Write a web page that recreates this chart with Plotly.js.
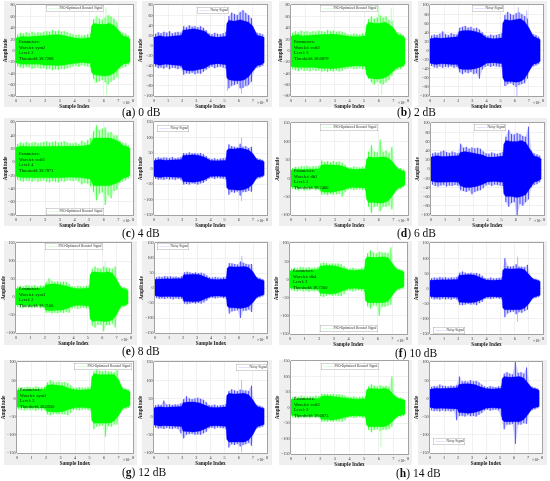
<!DOCTYPE html>
<html><head><meta charset="utf-8">
<script src="https://cdn.plot.ly/plotly-3.0.1.min.js"></script>
<style>html,body{margin:0;padding:0;background:#fff}#c{width:550px;height:481px;filter:blur(0.35px)}</style>
</head><body><div id="c"></div>
<script>
// sample index (x 1e7) of the envelope readings
const knots=[0,0.4,0.8,1.2,1.6,1.95,2.05,2.4,2.8,3.2,3.6,4,4.5,5.1,5.15,5.3,5.7,6.1,6.4,6.7,7,7.3,7.6,7.8];
// sample index (x 1e7) of the fainter peak readings
const peakX=[0.1,0.3,0.5,0.7,0.9,1.1,1.3,1.5,1.7,1.9,2.1,2.3,2.5,2.7,2.9,3.1,3.3,3.5,3.7,3.9,4.1,4.3,4.5,4.7,4.9,5.1,5.3,5.5,5.7,5.9,6.1,6.3,6.5,6.7,6.9,7.1,7.3,7.5,7.7];

const aLTop=[22,25,24,25,26,27,27,28,28,27,25,22,21,23,42,48,46,46,48,44,36,26,24,20];
const aLBot=[-22,-24,-23,-24,-24,-26,-26,-26,-27,-26,-24,-22,-21,-23,-38,-42,-44,-45,-44,-40,-33,-24,-23,-20];
const aLUp=[28,31,30,32,30,33,31,32,31,33,34,33,36,34,35,33,34,32,30,28,27,28,26,27,29,30,55,60,56,54,58,62,60,56,50,34,31,30,26];
const aLDn=[-28,-30,-31,-29,-30,-32,-31,-30,-32,-31,-33,-32,-35,-33,-34,-32,-33,-31,-30,-28,-27,-29,-26,-27,-28,-30,-50,-56,-54,-52,-56,-60,-55,-52,-46,-32,-30,-29,-25];
const aLSx=[5.5,6.15,6.4,5.4,6.2,6.5,7.0];
const aLSy=[62,76,62,-58,-78,-55,-50];
const aRTop=[16,19,17,18,19,20,30,32,33,31,28,18,16,18,43,50,48,51,48,46,38,20,18,16];
const aRBot=[-36,-39,-37,-38,-39,-40,-48,-50,-50,-48,-45,-38,-36,-38,-64,-68,-70,-70,-68,-62,-52,-40,-38,-34];
const aRUp=[23,26,24,27,25,28,24,26,27,25,38,36,40,37,38,36,38,35,30,24,22,25,23,22,24,27,58,65,62,60,66,70,64,60,54,30,25,24,22];
const aRDn=[-42,-45,-44,-46,-43,-47,-44,-45,-47,-44,-58,-55,-56,-54,-57,-55,-56,-52,-48,-44,-42,-45,-43,-42,-44,-46,-85,-80,-78,-76,-85,-84,-80,-78,-72,-48,-44,-43,-40];
const aRSx=[5.2,6.2,6.6];
const aRSy=[-90,-96,-82];

const bLTop=[25,28,26,27,28,28,28,28,29,28,26,25,24,26,44,50,48,48,50,46,40,28,26,22];
const bLBot=[-28,-30,-29,-30,-30,-31,-32,-32,-32,-31,-30,-28,-27,-28,-42,-48,-50,-50,-48,-44,-36,-30,-28,-24];
const bLUp=[31,34,32,35,33,34,32,34,33,35,34,33,36,34,35,33,34,33,31,29,28,30,29,28,30,32,55,60,56,58,62,58,60,54,52,34,32,30,27];
const bLDn=[-33,-35,-36,-34,-36,-35,-37,-34,-36,-35,-37,-36,-38,-36,-37,-35,-37,-36,-33,-32,-31,-33,-32,-31,-33,-34,-50,-56,-60,-55,-58,-60,-56,-52,-45,-36,-34,-33,-29];
const bLSx=[6.0,6.85,6.2,5.6];
const bLSy=[78,75,-78,-60];
const bRTop=[26,28,27,28,29,30,42,44,44,42,38,28,26,28,60,68,66,68,70,64,50,32,28,24];
const bRBot=[-28,-31,-29,-30,-31,-31,-40,-42,-42,-40,-36,-28,-27,-29,-60,-68,-68,-70,-68,-62,-48,-31,-28,-24];
const bRUp=[33,35,34,37,42,36,34,38,36,35,50,52,54,50,52,48,50,46,40,34,32,35,33,34,36,38,78,85,80,78,82,84,80,76,70,42,36,34,30];
const bRDn=[-34,-37,-38,-35,-38,-36,-37,-35,-38,-36,-48,-52,-48,-50,-47,-52,-50,-62,-42,-36,-34,-36,-34,-35,-36,-37,-78,-74,-72,-76,-80,-76,-74,-72,-62,-40,-35,-33,-30];
const bRSx=[6.25,6.85,6.15,5.4];
const bRSy=[95,88,-100,-78];

const cLTop=[22,24,23,23,24,24,24,24,24,24,23,23,24,26,30,36,36,36,36,34,31,25,23,20];
const cLBot=[-22,-24,-23,-23,-24,-24,-24,-24,-24,-24,-23,-23,-24,-26,-30,-36,-36,-36,-36,-34,-31,-25,-23,-20];
const cLUp=[27,29,28,30,28,29,30,28,29,30,31,29,30,31,29,30,31,29,28,28,29,27,32,29,33,36,46,55,48,50,52,44,45,40,40,32,29,28,25];
const cLDn=[-27,-29,-30,-28,-29,-30,-28,-30,-29,-28,-30,-31,-29,-30,-31,-29,-30,-28,-28,-29,-28,-30,-34,-32,-33,-37,-45,-58,-48,-46,-65,-50,-55,-44,-42,-32,-30,-28,-25];
const cLSx=[];
const cLSy=[];
const cRTop=[26,29,27,28,28,29,42,44,44,42,36,26,25,27,58,64,63,66,64,60,48,28,26,22];
const cRBot=[-26,-29,-27,-28,-28,-29,-42,-44,-44,-42,-36,-26,-25,-27,-62,-68,-68,-70,-68,-62,-50,-28,-26,-22];
const cRUp=[33,36,34,36,35,34,37,33,35,36,50,48,52,49,50,48,50,46,40,33,31,33,30,32,33,35,78,72,70,68,80,70,72,66,70,38,33,31,28];
const cRDn=[-33,-36,-35,-37,-34,-36,-35,-37,-34,-36,-52,-50,-52,-48,-50,-52,-48,-46,-40,-33,-31,-34,-31,-32,-33,-35,-85,-76,-78,-74,-88,-76,-76,-72,-75,-38,-33,-31,-28];
const cRSx=[6.2,6.2];
const cRSy=[100,-105];

const dLTop=[22,25,24,25,25,26,36,37,36,36,32,25,24,26,50,58,56,58,58,54,42,26,22,18];
const dLBot=[-23,-26,-25,-26,-26,-27,-36,-38,-38,-36,-32,-26,-25,-27,-56,-66,-66,-68,-66,-60,-44,-28,-23,-18];
const dLUp=[28,31,30,33,32,34,31,33,32,34,48,44,46,43,46,44,45,42,36,30,29,32,30,29,31,34,72,90,72,70,105,72,75,68,85,36,30,28,24];
const dLDn=[-29,-32,-33,-31,-34,-32,-33,-31,-33,-32,-45,-44,-46,-43,-45,-44,-42,-50,-38,-32,-31,-33,-31,-30,-32,-34,-78,-95,-78,-76,-90,-78,-78,-74,-85,-38,-32,-29,-24];
const dLSx=[];
const dLSy=[];
const dRTop=[26,29,27,28,28,29,36,38,36,34,31,26,26,28,54,62,60,60,62,58,44,28,26,22];
const dRBot=[-26,-29,-28,-28,-28,-29,-36,-40,-40,-38,-34,-28,-27,-29,-54,-60,-60,-62,-60,-56,-42,-29,-26,-22];
const dRUp=[34,36,35,38,40,37,35,38,36,34,55,46,48,44,47,45,46,44,38,34,33,36,34,33,35,37,70,85,76,75,78,76,72,70,92,40,34,32,29];
const dRDn=[-34,-37,-38,-36,-35,-38,-36,-37,-35,-36,-46,-48,-50,-47,-55,-50,-48,-46,-42,-36,-34,-37,-34,-35,-36,-37,-72,-82,-74,-72,-100,-76,-80,-72,-66,-40,-35,-33,-29];
const dRSx=[];
const dRSy=[];

const eLTop=[23,25,25,25,25,26,34,36,36,34,30,24,23,26,62,70,68,68,70,66,50,26,23,18];
const eLBot=[-22,-24,-24,-24,-24,-25,-36,-38,-38,-36,-32,-24,-23,-26,-60,-68,-66,-68,-68,-64,-50,-26,-23,-18];
const eLUp=[29,31,30,33,32,31,33,30,32,31,42,52,44,42,44,41,43,42,36,30,29,31,30,29,31,33,78,85,80,78,85,82,80,78,85,36,31,28,24];
const eLDn=[-28,-30,-31,-29,-30,-31,-30,-29,-31,-30,-44,-43,-46,-44,-45,-43,-44,-42,-44,-32,-31,-33,-31,-30,-32,-33,-80,-85,-78,-76,-95,-78,-78,-74,-85,-36,-31,-28,-24];
const eLSx=[6.2];
const eLSy=[100];
const eRTop=[29,31,31,31,31,32,44,46,46,44,36,29,28,30,66,72,70,72,72,68,54,32,28,24];
const eRBot=[-26,-29,-28,-28,-28,-29,-44,-46,-46,-44,-36,-28,-27,-29,-60,-66,-66,-68,-66,-62,-48,-30,-26,-22];
const eRUp=[36,38,37,40,38,39,37,38,36,39,52,54,52,50,52,50,51,48,42,36,35,37,35,34,36,38,83,82,80,78,88,84,80,78,80,42,36,33,30];
const eRDn=[-33,-36,-35,-37,-34,-36,-38,-35,-37,-36,-52,-54,-52,-50,-52,-50,-52,-48,-42,-34,-33,-35,-33,-32,-34,-36,-85,-78,-76,-74,-100,-76,-76,-72,-80,-38,-33,-31,-28];
const eRSx=[6.2];
const eRSy=[107];

const fLTop=[24,26,26,26,27,28,36,38,38,36,31,26,25,27,56,62,60,62,62,60,44,28,24,20];
const fLBot=[-24,-26,-26,-26,-27,-28,-38,-40,-40,-38,-32,-26,-25,-27,-58,-64,-62,-64,-64,-60,-44,-28,-24,-20];
const fLUp=[30,32,31,34,33,32,34,31,33,34,44,46,45,42,44,43,44,42,36,31,30,32,30,29,32,33,72,80,74,72,76,74,74,72,88,36,31,29,26];
const fLDn=[-30,-32,-33,-31,-33,-32,-34,-31,-33,-32,-46,-48,-45,-43,-45,-44,-45,-46,-40,-32,-31,-33,-31,-30,-32,-34,-74,-80,-72,-72,-100,-76,-76,-72,-70,-36,-31,-29,-26];
const fLSx=[];
const fLSy=[];
const fRTop=[27,29,29,29,29,30,44,46,46,44,36,28,27,29,60,66,64,66,66,62,48,31,27,23];
const fRBot=[-26,-29,-28,-28,-28,-29,-45,-47,-47,-45,-38,-28,-27,-29,-64,-70,-68,-70,-70,-64,-50,-30,-26,-22];
const fRUp=[34,36,35,38,36,37,35,37,36,38,52,56,52,50,52,50,51,48,42,34,33,36,33,34,35,37,100,74,72,74,80,72,72,70,78,40,34,32,29];
const fRDn=[-33,-36,-35,-37,-34,-36,-35,-37,-34,-36,-54,-55,-53,-51,-53,-52,-55,-48,-44,-34,-33,-35,-33,-32,-34,-36,-95,-82,-78,-76,-85,-78,-80,-74,-70,-38,-33,-31,-28];
const fRSx=[6.2,6.2];
const fRSy=[105,-110];

const gLTop=[23,25,25,25,25,26,36,38,36,34,28,24,23,26,58,68,66,66,68,66,52,26,23,18];
const gLBot=[-24,-26,-26,-26,-26,-27,-36,-38,-38,-36,-30,-26,-25,-27,-60,-68,-66,-68,-68,-62,-48,-28,-24,-20];
const gLUp=[29,31,30,32,31,30,33,31,30,32,44,50,46,44,46,44,45,42,36,30,29,31,30,29,31,32,74,80,76,74,76,74,74,72,78,36,30,28,24];
const gLDn=[-30,-32,-33,-31,-33,-32,-34,-31,-33,-32,-44,-46,-44,-42,-44,-43,-44,-46,-40,-32,-31,-33,-31,-30,-32,-34,-85,-78,-76,-74,-105,-76,-78,-72,-72,-36,-31,-29,-26];
const gLSx=[];
const gLSy=[];
const gRTop=[24,27,26,27,27,28,38,40,40,38,32,26,25,27,58,64,62,64,64,60,46,28,25,22];
const gRBot=[-23,-26,-25,-26,-26,-27,-40,-42,-42,-40,-34,-26,-25,-27,-62,-70,-68,-70,-70,-64,-50,-28,-24,-22];
const gRUp=[31,33,32,44,33,34,32,34,33,36,48,56,50,48,50,52,49,46,40,32,31,33,30,31,32,34,70,75,72,70,74,72,72,70,85,38,32,30,27];
const gRDn=[-30,-33,-32,-34,-31,-33,-34,-32,-34,-45,-60,-50,-48,-47,-50,-49,-50,-46,-42,-32,-31,-33,-30,-31,-32,-34,-85,-76,-78,-75,-82,-78,-76,-72,-80,-38,-32,-30,-28];
const gRSx=[6.2,6.2];
const gRSy=[100,-98];

const hLTop=[27,29,29,29,29,30,36,38,36,34,31,28,27,29,56,62,60,60,62,58,42,30,27,23];
const hLBot=[-25,-28,-27,-28,-28,-28,-38,-40,-40,-38,-33,-28,-27,-29,-56,-62,-60,-62,-62,-56,-42,-28,-25,-22];
const hLUp=[33,36,35,38,36,35,37,36,38,36,44,44,43,42,44,42,43,41,38,35,34,36,33,34,35,37,68,75,70,68,72,68,70,66,100,38,34,32,28];
const hLDn=[-32,-34,-35,-33,-34,-33,-35,-32,-34,-33,-46,-45,-46,-44,-46,-44,-45,-46,-40,-33,-32,-34,-32,-31,-33,-35,-72,-80,-72,-70,-76,-72,-72,-70,-62,-36,-32,-30,-27];
const hLSx=[6.15];
const hLSy=[-128];
const hRTop=[25,28,27,28,28,29,38,40,40,38,32,27,26,28,54,60,58,60,60,56,42,28,26,22];
const hRBot=[-25,-28,-27,-28,-28,-29,-39,-41,-41,-39,-34,-27,-26,-28,-58,-64,-62,-64,-64,-58,-44,-28,-25,-22];
const hRUp=[32,34,33,38,35,34,33,35,34,36,60,47,48,46,50,47,48,44,38,33,31,34,32,31,33,35,68,72,68,66,100,70,72,68,85,36,32,30,27];
const hRDn=[-33,-35,-34,-36,-33,-35,-34,-36,-34,-60,-48,-48,-50,-46,-49,-48,-50,-45,-40,-33,-31,-34,-32,-31,-33,-50,-85,-72,-72,-70,-125,-72,-72,-68,-70,-36,-32,-30,-27];
const hRSx=[];
const hRSy=[];

const rangesY=[[-80,80,20],[-100,80,20],[-80,80,20],[-100,100,20],[-80,60,20],[-150,150,50],[-100,150,50],[-100,100,20],
 [-100,150,50],[-150,150,50],[-150,100,50],[-150,150,50],[-150,100,50],[-100,150,50],[-150,150,50],[-150,100,50]];
// pixel boxes: plot left, right, top, bottom
const boxes=[[16,133,5,96],[154,267,5,96],[291,408,5,96],[430,543,5,96],
 [16,133,122,215],[154,267,122,215],[291,408,123,215],[431,544,123,215],
 [16,131,243,333],[155,267,243,333],[290,407,243,334],[430,543,243,334],
 [17,133,362,453],[154,267,362,453],[291,408,361,454],[430,542,362,453]];
const frames=[[4,137,1,107],[142,272,1,107],[279,412,1,107],[418,547,1,107],
 [4,137,118,226],[142,272,118,226],[279,412,118,226],[418,547,118,226],
 [4,137,241,345],[142,272,241,345],[279,412,241,345],[418,547,241,345],
 [4,137,360,465],[142,272,360,465],[279,412,360,465],[418,547,360,465]];
const tops=[aLTop,aRTop,bLTop,bRTop,cLTop,cRTop,dLTop,dRTop,eLTop,eRTop,fLTop,fRTop,gLTop,gRTop,hLTop,hRTop];
const bots=[aLBot,aRBot,bLBot,bRBot,cLBot,cRBot,dLBot,dRBot,eLBot,eRBot,fLBot,fRBot,gLBot,gRBot,hLBot,hRBot];
const ups=[aLUp,aRUp,bLUp,bRUp,cLUp,cRUp,dLUp,dRUp,eLUp,eRUp,fLUp,fRUp,gLUp,gRUp,hLUp,hRUp];
const dns=[aLDn,aRDn,bLDn,bRDn,cLDn,cRDn,dLDn,dRDn,eLDn,eRDn,fLDn,fRDn,gLDn,gRDn,hLDn,hRDn];
const sxs=[aLSx,aRSx,bLSx,bRSx,cLSx,cRSx,dLSx,dRSx,eLSx,eRSx,fLSx,fRSx,gLSx,gRSx,hLSx,hRSx];
const sys=[aLSy,aRSy,bLSy,bRSy,cLSy,cRSy,dLSy,dRSy,eLSy,eRSy,fLSy,fRSy,gLSy,gRSy,hLSy,hRSy];
const legendPos=[[75,8],[213,10],[349,9],[488,9],[75,211],[173,128],[349,127],[490,127],
 [74,246],[173,246],[349,328],[449,330],[103,366],[252,367],[350,366],[449,441]];
const paramText=['sym2|3|38.7268','coif2|3|38.6879','coif3|4|38.7871','db2|2|38.7466','sym3|2|38.7166','db4|2|38.7260','sym3|3|38.6930','coif2|2|38.6873'];
const paramY=[50,50,162,179,297,279,398,407];
const captions=[['a','0 dB',141,113],['b','2 dB',416,113],['c','4 dB',141,233],['d','6 dB',416,233],
 ['e','8 dB',141,351],['f','10 dB',416,353],['g','12 dB',144,472],['h','14 dB',418,473]];
const W=550,H=481;
const serif='"Liberation Serif",serif';
const px=x=>x/W, py=y=>1-y/H;
const traces=[],layout={width:W,height:H,margin:{l:0,r:0,t:0,b:0},paper_bgcolor:'#fff',plot_bgcolor:'#fff',showlegend:false,shapes:[],annotations:[]};
boxes.forEach((b,i)=>{
  const s=i?String(i+1):'', xa='x'+s, ya='y'+s, left=i%2===0;
  const col=left?'#00ff00':'#0000ff', mid=left?'#4dff4d':'#4d4dff', pale=left?'#ccffcc':'#ccccff', light=left?'#a6ffa6':'#a6a6ff';
  const f=frames[i];
  layout.shapes.push({type:'rect',xref:'paper',yref:'paper',x0:px(f[0]),x1:px(f[1]),y0:py(f[3]),y1:py(f[2]),fillcolor:'#efefef',line:{width:0},layer:'below'});
  layout.shapes.push({type:'rect',xref:'paper',yref:'paper',x0:px(b[0]),x1:px(b[1]),y0:py(b[3]),y1:py(b[2]),fillcolor:'#fff',line:{width:0},layer:'below'});
  const ax={showline:true,mirror:true,linecolor:'#555',linewidth:0.5,gridcolor:'#e4e4e4',gridwidth:0.5,zeroline:false,ticks:'',tickfont:{family:serif,size:4.2,color:'#333'}};
  layout['xaxis'+s]=Object.assign({},ax,{domain:[px(b[0]),px(b[1])],range:[0,8],dtick:1,tick0:0,anchor:ya,
    title:{text:'Sample Index',font:{family:serif,size:5.2,color:'#222',weight:'bold'},standoff:0}});
  const r=rangesY[i];
  layout['yaxis'+s]=Object.assign({},ax,{domain:[py(b[3]),py(b[2])],range:[r[0],r[1]],dtick:r[2],tick0:0,anchor:xa,
    title:{text:'Amplitude',font:{family:serif,size:5.2,color:'#222',weight:'bold'},standoff:0}});
  // pale silhouette of the faint peaks
  const px2=peakX.concat(peakX.slice().reverse());
  const py2=ups[i].concat(dns[i].slice().reverse());
  traces.push({type:'scatter',mode:'lines',x:px2,y:py2,xaxis:xa,yaxis:ya,fill:'toself',fillcolor:pale,line:{color:pale,width:0.3},hoverinfo:'skip'});
  // individual peaks, then isolated tall spikes
  const lx=[],ly=[];
  peakX.forEach((x,k)=>{lx.push(x,x,null);ly.push(ups[i][k],dns[i][k],null);});
  traces.push({type:'scatter',mode:'lines',x:lx,y:ly,xaxis:xa,yaxis:ya,line:{color:mid,width:1},hoverinfo:'skip'});
  const sx=[],sy=[];
  sxs[i].forEach((x,k)=>{sx.push(x,x,null);sy.push(0,sys[i][k],null);});
  traces.push({type:'scatter',mode:'lines',x:sx,y:sy,xaxis:xa,yaxis:ya,line:{color:light,width:0.8},hoverinfo:'skip'});
  // dense signal envelope
  const ex=knots.concat(knots.slice().reverse());
  const ey=tops[i].concat(bots[i].slice().reverse());
  traces.push({type:'scatter',mode:'lines',x:ex,y:ey,xaxis:xa,yaxis:ya,fill:'toself',fillcolor:col,line:{color:col,width:0.3},hoverinfo:'skip',name:left?'PSO-Optimized Boosted Signal':'Noisy Signal'});
  const lp=legendPos[i];
  layout.annotations.push({xref:'paper',yref:'paper',x:px(lp[0]),y:py(lp[1]),showarrow:false,xanchor:'center',yanchor:'middle',
    text:'<span style="color:'+(left?'#66ff66':'#7777ff')+'">———</span> '+(left?'PSO-Optimized Boosted Signal':'Noisy Signal'),
    font:{family:serif,size:3.4,color:'#333'},bgcolor:'#fff',bordercolor:'#999',borderwidth:0.4,borderpad:1});
  layout.annotations.push({xref:'paper',yref:'paper',x:px(b[1]),y:py(b[3]+6),showarrow:false,xanchor:'right',yanchor:'middle',
    text:'×10⁷',font:{family:serif,size:4,color:'#333'}});
  if(left){
    const n=i/2,p=paramText[n].split('|');
    layout.annotations.push({xref:'paper',yref:'paper',x:px(b[0]+1),y:py(paramY[n]),showarrow:false,xanchor:'left',yanchor:'middle',align:'left',
      text:'Parameters:<br>Wavelet: '+p[0]+'<br>Level: '+p[1]+'<br>Threshold: '+p[2],font:{family:serif,size:4.4,color:'#111'}});
  }
});
captions.forEach(c=>layout.annotations.push({xref:'paper',yref:'paper',x:px(c[2]),y:py(c[3]),showarrow:false,xanchor:'center',yanchor:'middle',
  text:'(<b>'+c[0]+'</b>) '+c[1],font:{family:serif,size:11.5,color:'#111'}}));
Plotly.newPlot('c',traces,layout,{displayModeBar:false,staticPlot:true});
</script></body></html>
